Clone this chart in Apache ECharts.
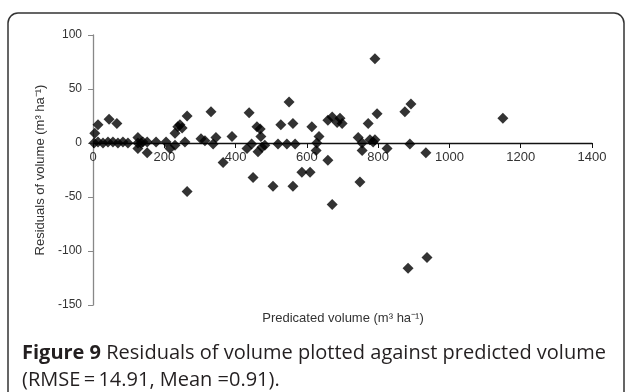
<!DOCTYPE html>
<html><head><meta charset="utf-8">
<script src="https://cdn.jsdelivr.net/npm/echarts@6/dist/echarts.min.js"></script>
<style>html,body{margin:0;padding:0;background:#fff}#c{width:629px;height:392px}</style>
</head><body><div id="c"></div>
<script>
// Predicted volume (m3/ha)
const predicted = [5,14,45,67,3,14,28,42,56,70,84,98,126,140,126,135,126,152,152,177,205,216,230,230,238,244,250,264,258,264,
  303,314,331,337,345,365,390,432,438,445,449,460,463,469,471,474,482,505,519,527,544,550,561,561,567,
  586,609,614,628,626,634,659,659,671,671,685,693,699,744,749,755,755,772,777,786,791,791,797,825,
  875,884,889,892,937,934,1150];
// Residuals (m3/ha)
const residuals = [9,17,22,18,0,1,0,1,1,0,1,0,0,1,5,0,-5,-9,1,1,1,-5,-2,9,15,17,14,25,1,-45,
  4,2,29,-1,5,-18,6,-5,28,-1,-32,15,-8,13,6,-4,-2,-40,-1,17,-1,38,18,-40,-1,
  -27,-27,15,0,-7,6,-16,21,24,-57,19,23,18,5,-36,0,-7,18,3,1,3,78,27,-5,
  29,-116,-1,36,-106,-9,23];
const xTicks = [0,200,400,600,800,1000,1200,1400];
const yTicks = [-150,-100,-50,0,50,100];

const pts = predicted.map((x,i)=>[x,residuals[i]]);
const chart = echarts.init(document.getElementById('c'), null, {renderer:'canvas'});
const gridTop = 35, gridBottom = 87, H = 392;
const plotH = H - gridTop - gridBottom;
const yMin = yTicks[0], yMax = yTicks[yTicks.length-1];
// distance from grid bottom to y=0 line, computed through the axis range
const zeroOffset = plotH * (0 - yMin) / (yMax - yMin);
chart.setOption({
  animation:false,
  backgroundColor:'#fff',
  grid:{left:93,right:37,top:gridTop,bottom:gridBottom,containLabel:false},
  xAxis:{type:'value',min:xTicks[0],max:xTicks[xTicks.length-1],interval:200,
    position:'bottom',offset:-zeroOffset,
    axisLine:{onZero:false,lineStyle:{color:'#111',width:1.3}},
    axisTick:{show:true,inside:false,length:5,lineStyle:{color:'#111'}},
    axisLabel:{color:'#333',fontFamily:'Liberation Sans',fontSize:13,margin:8,formatter:v=>String(v)},
    splitLine:{show:false}},
  yAxis:{type:'value',min:yMin,max:yMax,interval:50,
    axisLine:{show:true,onZero:false,lineStyle:{color:'#888',width:1.3}},
    axisTick:{show:true,length:5,lineStyle:{color:'#888'}},
    axisLabel:{color:'#333',fontFamily:'Liberation Sans',fontSize:12,margin:11,formatter:v=>String(v)},
    splitLine:{show:false},
    name:'Residuals of volume (m\u00b3 ha\u207b\u00b9)',nameLocation:'middle',nameGap:45,
    nameTextStyle:{color:'#333',fontFamily:'Liberation Sans',fontSize:13}},
  series:[{type:'scatter',data:pts,symbol:'diamond',symbolSize:11,
    itemStyle:{color:'#000'}}],
  graphic:[
    {type:'rect',shape:{x:8,y:13,width:616,height:400,r:10},
     style:{fill:'none',stroke:'#333',lineWidth:1.5},silent:true,z:-1},
    {type:'text',x:343,y:318,style:{text:'Predicated volume (m\u00b3 ha\u207b\u00b9)',
      fill:'#333',font:'13px "Liberation Sans"',align:'center',verticalAlign:'middle'}},
    {type:'text',x:22,y:367,style:{text:'{b|Figure 9} Residuals of volume plotted against predicted volume\n(RMSE\u2009=\u200914.91, Mean =0.91).',
      fill:'#231f20',font:'20px "Open Sans"',lineHeight:27,verticalAlign:'middle',
      rich:{b:{fontWeight:'bold',fontFamily:'Open Sans',fontSize:20,fill:'#231f20'}}}}
  ]
});
</script></body></html>
